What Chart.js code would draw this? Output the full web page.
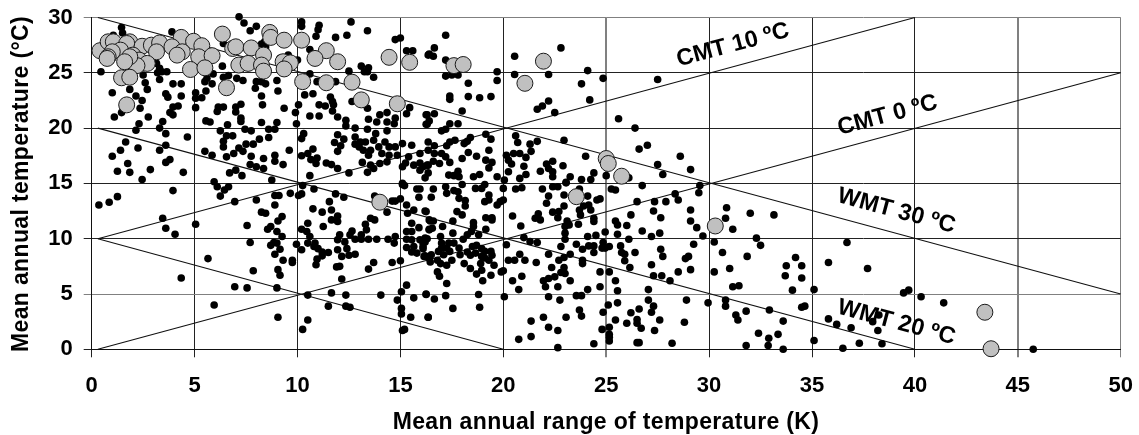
<!DOCTYPE html>
<html><head><meta charset="utf-8">
<style>html,body{margin:0;padding:0;background:#fff}canvas{display:block}</style>
<script src="https://cdn.jsdelivr.net/npm/chart.js@4"></script></head>
<body><div style="width:1139px;height:435px"><canvas id="c" width="1139" height="435"></canvas></div>
<script>
const xTicks=[0,5,10,15,20,25,30,35,40,45,50];
const yTicks=[0,5,10,15,20,25,30];
const xTitle='Mean annual range of temperature (K)';
const yTitle='Mean annual temperature (°C)';
const climateLineNames=['CMT 10 ºC','CMT 0 ºC','WMT 30 ºC','WMT 20 ºC'];
const lineCmt10=[[0.3,10],[40,30]];
const lineCmt0=[[0.3,0],[50,25]];
const lineWmt30=[[0.3,30],[50,5]];
const lineWmt20=[[0.3,20],[40,0]];
const lineWmt10=[[0.3,10],[20,0]];
const blackPoints=[
[7.16,30.06],[7.4,29.5],[8.0,29.2],[7.7,28.8],[10.2,29.6],[10.2,29.2],[11.05,29.3],[11.0,28.9],[10.9,28.3],[12.6,29.6],[12.4,28.4],[13.4,28.8],[11.85,28.2],[14.75,28.0],[15.0,28.15],[1.45,29.1],[1.5,28.6],[3.9,28.7],[15.3,27.0],[15.6,27.0],[16.4,26.7],[10.6,27.1],[6.4,27.65],[8.25,27.6],[8.4,27.8],[13.1,25.6],[13.45,25.45],[13.25,25.1],[13.4,25.1],[13.7,24.6],[12.5,25.15],[6.35,25.6],[0.45,25.1],[2.5,24.8],[3.3,25.4],[3.2,25.0],[3.4,25.1],[3.65,25.1],[3.3,24.4],[2.6,24.1],[2.7,23.5],[1.85,23.5],[1.0,23.2],[3.95,24.0],[4.35,24.0],[3.6,23.1],[3.7,22.8],[4.35,22.9],[5.05,23.2],[5.05,22.7],[5.35,22.75],[5.55,23.35],[5.5,24.2],[5.6,24.5],[5.85,24.0],[5.9,24.9],[6.4,24.6],[6.65,24.75],[7.05,24.5],[7.35,24.3],[8.0,24.2],[8.25,24.2],[8.45,24.0],[7.95,23.6],[8.25,22.9],[9.0,24.3],[9.05,23.35],[10.6,24.9],[10.95,24.2],[11.85,24.2],[10.35,23.0],[10.75,23.1],[11.6,22.8],[11.7,22.4],[11.75,22.1],[12.65,22.4],[11.05,22.1],[11.35,22.0],[11.7,21.55],[11.95,21.0],[10.6,21.1],[11.05,21.1],[13.4,21.8],[15.45,21.85],[15.3,21.3],[14.0,21.2],[14.35,21.4],[13.45,20.8],[13.85,20.55],[14.35,20.55],[14.75,20.9],[14.7,20.4],[16.3,21.2],[16.3,20.35],[12.35,20.7],[12.35,20.2],[12.8,20.0],[13.4,19.9],[14.35,19.75],[13.8,19.5],[12.8,19.2],[11.95,19.4],[12.25,19.0],[11.8,18.7],[12.1,18.4],[11.95,17.9],[12.8,18.55],[13.05,18.75],[13.3,18.75],[13.0,18.3],[13.2,18.0],[13.55,18.0],[13.7,18.9],[13.95,18.3],[14.25,18.75],[14.45,18.3],[14.1,17.7],[14.45,17.55],[13.45,17.55],[13.15,16.9],[13.55,16.65],[13.4,16.0],[13.7,16.35],[14.0,16.8],[14.35,16.95],[14.75,18.3],[14.85,17.55],[15.1,18.6],[15.1,16.5],[15.4,17.4],[15.25,16.85],[15.55,18.45],[15.95,17.7],[15.65,16.65],[15.95,16.85],[16.3,16.65],[15.95,16.2],[16.35,15.95],[16.2,15.5],[15.1,15.0],
[8.3,22.1],[9.35,21.8],[10.05,22.1],[9.9,21.4],[9.95,20.4],[9.0,20.5],[8.25,20.5],[7.25,22.15],[7.0,21.9],[7.0,21.45],[7.25,20.9],[7.25,20.6],[6.15,21.9],[6.4,21.9],[6.1,21.5],[5.55,20.65],[5.75,20.55],[6.6,20.3],[6.25,19.75],[7.45,19.9],[7.75,19.75],[8.6,19.9],[8.9,19.9],[8.6,19.15],[8.15,19.0],[6.55,19.3],[6.85,19.3],[6.4,18.8],[6.4,18.3],[7.5,18.55],[7.85,18.55],[7.15,18.2],[6.9,17.7],[7.35,17.9],[6.55,17.4],[7.75,17.45],[8.35,17.25],[8.9,17.55],[8.9,17.0],[9.6,18.0],[9.3,16.7],[7.7,16.7],[8.0,16.5],[8.35,16.35],[10.3,19.5],[10.2,19.05],[10.75,18.1],[10.5,17.7],[10.2,17.5],[10.65,17.15],[10.95,17.3],[10.9,16.8],[11.4,16.85],[11.65,16.7],[11.95,16.35],[12.5,15.95],[10.6,15.7],[6.7,15.95],[7.0,16.2],[7.3,15.7],[8.75,15.3],[5.95,15.15],[2.3,20.4],[2.15,19.8],[2.75,21.0],[2.35,21.8],[2.15,22.9],[2.45,22.5],[1.1,21.0],[1.45,21.4],[3.45,20.6],[3.3,20.0],[3.6,19.5],[4.65,19.2],[3.95,21.9],[4.2,22.0],[3.8,21.4],[3.95,21.2],[5.05,21.85],[3.6,18.45],[3.3,18.0],[2.25,18.2],[1.65,18.75],[1.4,18.0],[1.0,17.45],[1.75,16.8],[1.25,16.1],[1.85,16.0],[2.85,16.25],[3.8,17.15],[3.6,16.9],[4.45,16.0],[2.45,15.35],[5.5,17.9],[5.85,17.55],[3.15,25.85],[1.05,28.4],[8.45,27.35],[8.45,27.05],[9.15,26.3],[9.55,26.6],[10.0,26.15],
[6.1,14.7],[6.45,14.4],[6.65,14.7],[6.25,13.85],[1.25,13.8],[0.85,13.3],[0.35,13.05],[3.95,14.35],[6.95,13.35],[8.0,13.5],[8.9,13.9],[9.1,13.9],[8.9,13.05],[9.65,14.1],[10.05,13.9],[10.2,14.05],[10.25,14.8],[10.8,14.5],[11.85,14.05],[12.25,13.75],[11.55,13.35],[10.75,12.7],[11.2,12.4],[11.65,12.6],[11.95,12.05],[11.65,11.7],[11.95,11.55],[8.25,12.4],[8.45,12.3],[9.25,12.0],[9.05,11.6],[7.55,11.2],[8.7,11.1],[8.55,10.85],[9.0,10.65],[9.25,10.2],[10.5,11.4],[11.25,11.1],[10.2,10.85],[10.45,10.65],[10.6,10.2],[3.45,11.85],[3.6,10.95],[4.05,10.4],[5.05,11.3],[7.7,9.65],[8.85,9.65],[8.7,9.4],[9.0,9.6],[9.15,9.05],[8.9,8.6],[9.95,9.5],[10.2,9.0],[10.5,9.6],[10.85,9.6],[10.8,9.3],[11.0,9.1],[11.2,8.8],[11.5,8.75],[11.2,8.45],[10.95,8.15],[10.9,7.65],[9.3,8.05],[9.75,8.05],[9.75,7.85],[9.05,7.2],[9.15,6.7],[7.85,7.1],[5.65,8.2],[4.35,6.45],[6.95,5.65],[7.55,5.55],[9.0,5.55],[10.5,4.9],[11.65,5.1],[12.35,4.9],[14.05,4.9],[5.95,4.0],[11.5,3.9],[12.35,3.9],[12.55,3.8],[9.05,2.9],[10.5,2.65],[10.25,1.8],[12.15,6.35],[13.45,7.25],[13.7,7.85],[14.6,7.85],[15.0,8.0],[11.9,7.45],[12.05,7.5],[12.15,8.4],[11.95,9.0],[12.5,8.5],[12.8,8.6],[12.4,9.1],[11.95,9.9],[12.3,9.7],[12.05,10.35],[12.65,10.7],[12.55,10.35],[12.8,9.95],[13.1,9.95],[13.45,9.95],[13.85,9.95],[13.1,10.35],[13.35,10.8],[13.3,11.3],[13.55,11.85],[13.75,11.7],[13.75,13.85],[14.35,12.4],[14.6,13.4],[14.75,13.4],[15.0,13.6],[15.1,14.9],[15.2,14.8],[15.8,14.5],[15.95,14.5],[15.9,13.75],[15.3,13.05],[15.65,12.6],[15.35,12.3],[16.25,12.45],[15.55,11.4],[15.9,11.0],[16.4,11.7],[16.4,10.85],[15.3,10.65],[15.55,10.65],[14.4,9.95],[14.75,10.2],[14.7,9.6],[15.3,9.95],[15.3,9.2],[15.55,9.9],[15.65,9.3],[15.55,8.8],[15.8,8.7],[15.95,9.9],[16.1,9.6],[16.3,10.0],[16.1,9.1],[16.2,8.45],[16.4,8.2],[15.3,5.8],[15.05,5.2],[16.25,5.0],[15.65,4.65],[14.85,4.45],[15.05,3.7],[15.05,3.2],[15.5,2.9],[16.35,2.9],[15.1,1.7],[15.2,1.8],
[17.2,28.4],[16.65,27.25],[16.35,26.6],[16.6,26.5],[17.2,26.15],[17.2,24.7],[17.5,24.8],[17.8,24.8],[18.3,24.05],[19.7,25.1],[19.7,24.3],[17.4,22.9],[17.4,22.6],[18.3,22.85],[18.85,22.75],[19.4,22.85],[18.0,21.55],[16.65,21.3],[16.25,21.2],[16.4,20.65],[16.25,20.35],[17.4,20.4],[17.8,20.4],[17.2,19.9],[17.0,19.75],[19.15,19.45],[19.4,19.0],[18.4,19.15],[18.25,18.8],[18.1,18.6],[17.65,18.9],[17.4,18.75],[17.25,18.4],[16.35,18.75],[16.65,18.4],[16.35,18.0],[16.65,17.7],[17.0,17.7],[17.2,17.4],[17.4,16.9],[16.6,17.0],[16.9,16.8],[16.1,16.5],[16.35,16.65],[18.3,17.8],[18.0,17.25],[18.7,17.45],[19.3,18.0],[19.15,17.1],[19.45,16.9],[19.3,16.4],[17.35,15.75],[17.6,15.7],[17.8,16.1],[17.85,15.6],[18.55,15.6],[18.85,15.8],[19.7,15.6],[20.05,15.3],
[20.55,26.5],[20.55,24.85],[22.2,24.85],[22.8,27.25],[24.1,25.2],[24.85,24.5],[23.8,24.0],[24.2,22.55],[22.2,22.45],[21.9,22.0],[21.65,21.7],[22.5,21.4],[27.5,24.4],[25.6,20.85],[26.4,20.0],[27.0,18.45],[26.6,18.1],[28.6,17.45],[27.5,16.7],[29.1,16.25],[27.75,15.8],[26.1,15.5],[24.0,17.45],[20.6,19.3],[20.7,18.7],[21.3,18.55],[21.65,18.8],[22.95,18.9],[21.35,17.9],[20.15,17.55],[20.5,17.7],[20.8,17.7],[21.1,17.35],[20.25,17.1],[20.4,16.75],[21.0,16.55],[20.25,16.05],[21.1,15.8],[20.8,15.45],[22.4,17.0],[22.1,16.75],[22.2,16.35],[22.4,16.05],[22.9,16.6],[21.8,16.1],[22.4,15.6],[23.25,15.6],[23.8,15.35],[24.25,15.35],[24.4,15.95],[25.0,15.7],[23.05,15.1],
[18.0,14.9],[19.1,14.9],[18.95,14.55],[18.65,14.55],[19.3,13.95],[19.3,13.5],[19.1,13.35],[20.0,14.55],[20.0,13.5],[19.85,13.35],[19.7,13.05],[18.15,13.45],[18.15,12.95],[17.85,13.65],[17.6,14.35],[17.8,14.25],[17.25,14.1],[17.2,14.7],[16.6,14.5],[16.5,13.75],[16.2,12.5],[17.75,12.45],[18.0,12.15],[17.55,11.6],[16.45,11.6],[16.6,11.6],[19.15,11.9],[19.45,11.9],[19.45,11.7],[18.55,11.45],[18.55,11.1],[18.45,10.65],[18.25,10.35],[18.05,9.95],[17.05,11.1],[16.55,10.95],[16.4,10.8],[17.55,10.5],[19.15,10.85],[18.8,10.35],[16.95,10.2],[16.2,10.05],[16.2,9.7],[16.1,9.3],[17,9.6],[17.35,9.6],[17.6,9.6],[17,9.15],[17.25,9.15],[16.85,8.85],[17.1,8.55],[17.4,8.85],[17.85,9.15],[17.9,8.55],[16.5,8.55],[16.15,8.4],[16.8,8.05],[16.45,7.9],[17.5,8.05],[17.25,7.6],[16.95,7.75],[18.1,7.75],[18.4,7.3],[18.25,8.8],[18.4,8.5],[18.65,8.7],[18.5,9.3],[18.7,9.4],[18.95,9.1],[19.1,8.85],[19.4,8.85],[18.95,8.4],[19.1,8.25],[19.45,8.5],[19.3,8.05],[19.55,7.6],[18.9,7.75],[18.95,7.15],[18.7,6.8],[19.4,6.7],[19.9,7.0],[20.0,7.1],[16.8,7.0],[16.9,6.6],[17.25,5.95],[19.0,6.2],[18.8,4.95],[16.25,4.95],[16.65,4.55],[17.2,4.85],[20.05,4.75],[17.55,3.7],[18.85,3.8],[16.35,2.9],
[20.6,14.5],[20.9,14.6],[21.9,14.5],[22.4,14.7],[22.65,14.7],[23.05,15.05],[22.2,13.85],[22.1,13.2],[22.95,13.95],[24.1,13.85],[23.7,14.5],[24.55,13.5],[24.7,13.6],[25.25,14.5],[25.45,14.4],[26.75,14.8],[26.5,13.35],[27.35,13.35],[27.9,13.35],[28.35,14.05],[28.5,13.5],[29.55,14.8],[29.5,14.15],[29.1,12.6],[27.3,12.5],[27.65,11.9],[26.2,12.15],[29.1,11.6],[29.4,11.0],[29.7,10.25],[30.85,12.8],[30.8,11.85],[31.15,10.85],[32.0,12.3],[32.3,10.05],[32.5,9.4],[30.25,9.7],[30.65,8.75],[31.85,8.4],[31.0,7.3],[30.25,7.0],[31.15,5.65],[31.45,5.75],[29.25,9.5],[27.65,9.05],[27.75,8.4],[26.4,8.75],[25.7,9.35],[25.75,8.75],[25.9,8.6],[25.9,8.0],[26.15,7.4],[26.1,9.95],[26.75,10.7],[27.2,10.2],[27.6,10.5],[25.45,11.6],[25.55,11.25],[26.0,11.2],[25.55,10.4],[24.95,10.6],[24.5,10.3],[24.1,10.2],[23.55,9.5],[23.85,9.05],[24.15,9.35],[24.4,9.35],[24.4,8.75],[24.85,9.65],[24.8,9.15],[24.95,9.15],[25.15,9.3],[24.4,11.85],[24.4,11.55],[24.25,12.6],[24.15,13.05],[23.9,12.95],[23.7,12.6],[23.75,12.15],[23.65,11.3],[22.95,12.95],[22.7,12.45],[22.4,12.4],[22.65,11.9],[21.7,12.25],[21.55,11.85],[21.8,11.7],[20.45,12.05],[20.85,11.15],[23.1,11.6],[23.2,11.25],[23.0,11.1],[23.0,10.5],[23.0,9.95],[21.0,10.1],[21.3,9.75],[21.65,9.65],[20.15,9.45],[22.8,9.3],[22.2,8.6],[23.25,8.6],[22.95,8.3],[22.7,8.05],[20.25,8.05],[20.55,8.05],[20.8,8.6],[21.05,8.05],[21.6,7.85],[23.85,8.05],[23.85,7.75],[22.35,7.4],[22.95,7.4],[22.8,6.95],[23.0,6.85],[24.7,7.0],[25.15,7.0],[20.9,6.6],[20.45,6.2],[22.5,6.55],[22.2,6.4],[21.95,6.2],[22.05,5.65],[23.25,6.2],[20.75,5.4],[22.65,5.65],[24.1,5.4],[24.7,5.65],[25.45,6.2],[25.55,5.3],[22.2,4.75],[22.75,4.45],[23.55,4.85],[23.8,4.85],[27.2,7.65],[27.3,6.65],[27.7,6.65],[28.1,6.2],[28.5,7.0],[29.1,7.2],[28.85,8.2],[29.0,8.4],[27.05,5.4],[27.05,4.45],[27.3,3.9],[27.2,3.35],[28.9,4.45],[29.95,4.2],[30.8,4.45],[30.8,3.9],[31.8,3.45],[31.3,3.1],[31.4,2.65],[32.4,1.45],[31.8,0.35],[32.87,0.35],[32.93,3.55],[25.55,4.2],[25.1,4.0],[24.85,3.35],[23.7,3.55],[23.8,3.0],[23.05,2.9],[21.95,2.9],[21.35,2.55],[22.2,2.0],[22.65,1.7],[21.35,1.15],[20.75,0.9],[22.65,0.15],[24.4,0.5],[24.8,1.8],[25.15,2.0],[25.15,1.35],[25.15,1.1],[25.15,0.75],[25.45,2.65],[26.0,2.35],[26.2,3.3],[26.6,3.65],[26.5,2.7],[26.5,2.35],[26.7,1.9],[27.6,2.65],[27.35,1.7],[26.5,0.6],[26.6,0.6],[28.2,0.55],[28.8,2.45],
[33.15,12.15],[36.7,9.65],[34.2,8.3],[33.75,7.55],[34.5,7.55],[35.8,7.85],[37.7,7.3],[33.7,6.65],[34.5,6.45],[34.05,5.35],[35.1,5.4],[39.45,5.1],[39.7,5.35],[40.3,4.75],[41.4,4.2],[34.5,3.8],[34.65,3.9],[33.6,2.55],[33.35,1.35],[32.9,1.0],[33.6,0],[35.1,0.8],[36.5,0.1],[37.3,0.55],[38.4,0.5],[35.8,2.75],[36.2,2.25],[36.9,1.95],[38.2,1.7],[37.95,2.5],[38.25,3.1],[45.75,0]
];
const grayPoints=[
[6.35,28.5],[8.65,28.65],[8.7,28.2],[9.35,27.95],[10.2,27.95],[4.35,28.2],[4.95,27.85],[5.35,27.45],[0.4,27.0],[0.8,27.8],[1.05,27.8],[1.85,27.8],[1.7,27.65],[1.4,27.05],[1.0,26.9],[0.8,26.45],[0.75,26.3],[2.45,27.4],[2.0,26.6],[2.9,27.5],[3.3,27.7],[3.15,26.9],[3.9,27.35],[4.4,26.9],[4.15,26.6],[5.2,26.45],[5.85,26.55],[4.8,25.3],[5.5,25.45],[2.3,26.15],[2.7,25.85],[2.2,25.65],[1.85,26.45],[1.6,26.0],[1.45,24.55],[1.85,24.6],[1.7,22.1],[6.55,23.65],[6.85,27.2],[7.0,27.35],[7.75,27.25],[8.35,26.6],[7.15,25.7],[7.6,25.85],[8.25,25.7],[8.35,25.15],[9.3,26.0],[9.65,25.9],[9.35,25.35],[10.25,24.2],[11.4,27.0],[10.85,26.3],[11.95,26.0],[11.4,24.1],[12.65,24.15],[13.1,22.55],[14.85,22.2],[14.45,26.4],[15.45,25.95],[17.6,25.65],[18.05,25.75],[21.95,26.05],[21.05,24.05],[25.0,17.25],[25.1,16.8],[25.75,15.65],[14.0,13.3],[23.55,13.8],[30.3,11.15],[43.4,3.35],[43.7,0.05]
];
const asXY=a=>a.map(p=>({x:p[0],y:p[1]}));
const lineSet=d=>({type:'line',data:asXY(d),borderColor:'#111',borderWidth:1.1,pointRadius:0,fill:false,order:3,clip:false});
const FONT='"Liberation Sans", Arial, sans-serif';
const GRIDDARK='#222', GRIDGRAY='#808080';
const zeroPad=s=>{s.paddingLeft=0;s.paddingRight=0;s.paddingTop=0;s.paddingBottom=0;};
const textLayer={
 id:'textLayer',
 afterDraw(ch){
  const {ctx,scales:{x,y}}=ch;
  const spots=[[31.16,27.5,-15],[38.67,21.14,-15],[39.1,12.5,15],[39.1,2.42,15]];
  ctx.save();
  ctx.fillStyle='#000';
  ctx.font='bold 23.5px '+FONT;
  ctx.textAlign='center';ctx.textBaseline='middle';
  climateLineNames.forEach((t,i)=>{
   const s=spots[i];
   ctx.save();
   ctx.translate(x.getPixelForValue(s[0]),y.getPixelForValue(s[1]));
   ctx.rotate(s[2]*Math.PI/180);
   ctx.fillText(t,0,0);
   ctx.restore();
  });
  ctx.font='bold 23px '+FONT;
  ctx.letterSpacing='0.35px';
  ctx.fillText(xTitle,606,423);
  ctx.save();
  ctx.translate(21.7,184);
  ctx.rotate(-Math.PI/2);
  ctx.fillText(yTitle,0,0);
  ctx.restore();
  ctx.restore();
 }
};
new Chart(document.getElementById('c'),{
 type:'scatter',
 data:{datasets:[
  lineSet(lineCmt10),lineSet(lineCmt0),lineSet(lineWmt30),lineSet(lineWmt20),lineSet(lineWmt10),
  {data:asXY(blackPoints),backgroundColor:'#000',borderColor:'#000',borderWidth:0,pointRadius:3.8,order:2,clip:false},
  {data:asXY(grayPoints),backgroundColor:'#c0c0c0',borderColor:'#1a1a1a',borderWidth:1,pointRadius:8,order:1,clip:false}
 ]},
 options:{
  responsive:false,animation:false,
  layout:{padding:{top:17.5,right:18.3,left:0,bottom:0}},
  plugins:{legend:{display:false},tooltip:{enabled:false}},
  scales:{
   x:{type:'linear',min:0,max:50,
    afterFit(s){s.height=85.7;zeroPad(s);},
    afterBuildTicks(s){s.ticks=xTicks.map(v=>({value:v}))},
    grid:{
     color:c=>(c.tick&&[25,45,50].includes(c.tick.value))?GRIDGRAY:GRIDDARK,
     lineWidth:c=>(c.tick&&[25,45].includes(c.tick.value))?2:1,
     tickLength:8},
    border:{color:'#111',width:1},
    ticks:{color:'#000',font:{family:FONT,size:22,weight:'bold'},padding:15,maxRotation:0}
   },
   y:{type:'linear',min:0,max:30,
    afterFit(s){s.width=91.7;zeroPad(s);},
    afterBuildTicks(s){s.ticks=yTicks.map(v=>({value:v}))},
    grid:{
     color:c=>(c.tick&&[5,30].includes(c.tick.value))?GRIDGRAY:GRIDDARK,
     lineWidth:1,tickLength:8},
    border:{color:'#111',width:1},
    ticks:{color:'#000',font:{family:FONT,size:22,weight:'bold'},padding:11}
   }
  }
 },
 plugins:[textLayer]
});
</script></body></html>
